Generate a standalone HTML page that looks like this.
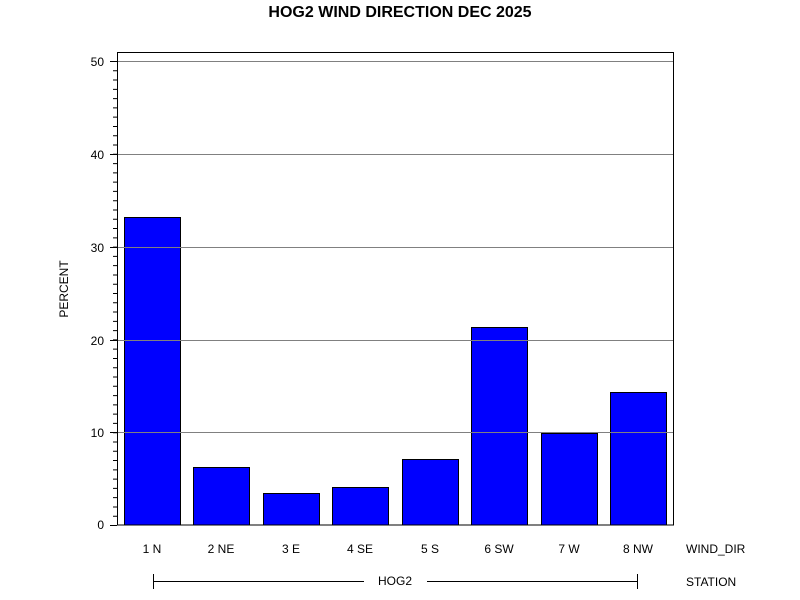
<!DOCTYPE html>
<html><head><style>body{margin:0;background:#fff}svg{display:block}text{font-family:"Liberation Sans",sans-serif;fill:#000}</style></head><body>
<svg width="800" height="600" xmlns="http://www.w3.org/2000/svg">
<rect width="800" height="600" fill="#fff"/>
<text x="400" y="17" font-size="16" font-weight="bold" text-anchor="middle">HOG2 WIND DIRECTION DEC 2025</text>
<g fill="#0000ff" stroke="#000" stroke-width="1">
<rect x="124.5" y="217.5" width="56" height="307.5"/>
<rect x="193.5" y="467.5" width="56" height="57.5"/>
<rect x="263.5" y="493.5" width="56" height="31.5"/>
<rect x="332.5" y="487.5" width="56" height="37.5"/>
<rect x="402.5" y="459.5" width="56" height="65.5"/>
<rect x="471.5" y="327.5" width="56" height="197.5"/>
<rect x="541.5" y="433.5" width="56" height="91.5"/>
<rect x="610.5" y="392.5" width="56" height="132.5"/>
</g>
<g stroke="#808080" stroke-width="1">
<line x1="117" y1="61.5" x2="673" y2="61.5"/>
<line x1="117" y1="154.5" x2="673" y2="154.5"/>
<line x1="117" y1="247.5" x2="673" y2="247.5"/>
<line x1="117" y1="340.5" x2="673" y2="340.5"/>
<line x1="117" y1="432.5" x2="673" y2="432.5"/>
</g>
<rect x="117.5" y="52.5" width="556" height="472.5" fill="none" stroke="#000"/>
<line x1="115" y1="61" x2="115" y2="526" stroke="#000" stroke-width="4" stroke-dasharray="1 8.28"/>
<g stroke="#000" stroke-width="1">
<line x1="110" y1="61.5" x2="117" y2="61.5"/>
<line x1="110" y1="154.5" x2="117" y2="154.5"/>
<line x1="110" y1="247.5" x2="117" y2="247.5"/>
<line x1="110" y1="340.5" x2="117" y2="340.5"/>
<line x1="110" y1="432.5" x2="117" y2="432.5"/>
<line x1="110" y1="525.5" x2="117" y2="525.5"/>
</g>
<g font-size="12" text-anchor="end">
<text x="104" y="66">50</text><text x="104" y="159">40</text><text x="104" y="252">30</text><text x="104" y="345">20</text><text x="104" y="437">10</text><text x="104" y="529">0</text>
</g>
<text transform="translate(68,289) rotate(-90)" font-size="12" text-anchor="middle">PERCENT</text>
<g font-size="12" text-anchor="middle">
<text x="152" y="553">1 N</text><text x="221" y="553">2 NE</text><text x="291" y="553">3 E</text><text x="360" y="553">4 SE</text><text x="430" y="553">5 S</text><text x="499" y="553">6 SW</text><text x="569" y="553">7 W</text><text x="638" y="553">8 NW</text>
<text x="395" y="585">HOG2</text>
</g>
<text x="686" y="553" font-size="12">WIND_DIR</text>
<text x="686" y="586" font-size="12">STATION</text>
<g stroke="#000"><line x1="153.5" y1="574" x2="153.5" y2="589"/><line x1="637.5" y1="574" x2="637.5" y2="589"/><line x1="153" y1="581.5" x2="364" y2="581.5"/><line x1="427" y1="581.5" x2="637" y2="581.5"/></g>
</svg>
</body></html>
